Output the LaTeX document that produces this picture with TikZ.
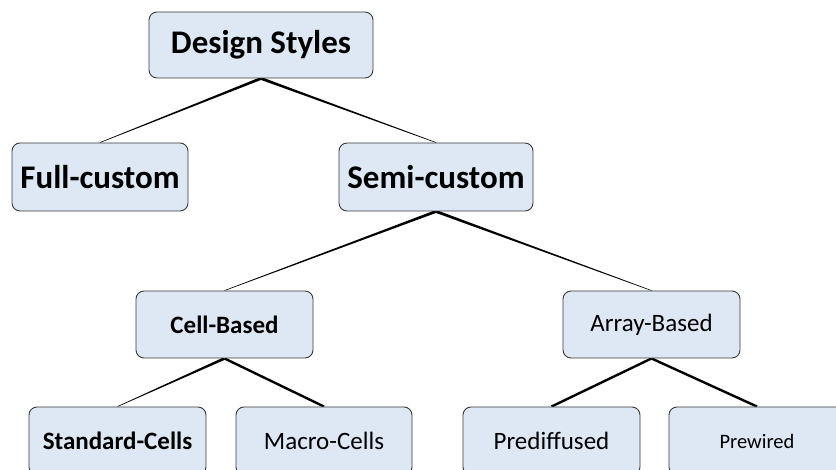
\documentclass[tikz,border=0pt]{standalone}
\usepackage{fontspec}
\setmainfont{Carlito}
\usetikzlibrary{calc,backgrounds}

\definecolor{boxfill}{HTML}{DEE8F4}
\definecolor{boxline}{HTML}{3A3A3A}

% connector that narrows from the parent box down to the child box
\newcommand{\taperlink}[2]{%
  \fill[black] ($(#1.south)+(0,-1.5)$) -- ($(#1.south)+(0,1.5)$)
    -- ($(#2.north)+(0,0.3)$) -- ($(#2.north)+(0,-0.3)$) -- cycle;}

\tikzset{
  box/.style={draw=boxline, fill=boxfill, line width=0.9pt, rounded corners=8pt,
    inner sep=0pt, minimum width=#1, minimum height=68pt, align=center},
  big/.style={font=\fontsize{33}{38}\selectfont\bfseries},
  midb/.style={font=\fontsize{25}{30}\selectfont\bfseries},
  mid/.style={font=\fontsize{25}{30}\selectfont},
  small/.style={font=\fontsize{20.5}{24}\selectfont},
  thicklink/.style={line width=2.4pt, black}
}

\begin{document}
\begin{tikzpicture}[x=1pt, y=-1pt]
  \useasboundingbox (0,0) rectangle (836,470);
  \clip (0,0) rectangle (836,470);

  \node[box=224pt, minimum height=66pt, big] (ds) at (261,45) {Design Styles};
  \node[box=176pt, big] (fc) at (100,177) {Full-custom};
  \node[box=194pt, big] (sc) at (436,177) {Semi-custom};

  \node[box=177pt, minimum height=67pt, midb] (cb) at (224.5,324.5) {Cell-Based};
  \node[box=177pt, minimum height=67pt, mid] (ab) at (651.5,324.5) {Array-Based};

  \node[box=177pt, midb] (std) at (117.5,441) {Standard-Cells};
  \node[box=176pt, mid] (mc) at (324,441) {Macro-Cells};
  \node[box=177pt, mid] (pd) at (551.5,441) {Prediffused};
  \node[box=176pt, small] (pw) at (757,441) {Prewired};

  \begin{scope}[on background layer]
    \taperlink{ds}{fc}
    \taperlink{ds}{sc}
    \taperlink{sc}{cb}
    \taperlink{sc}{ab}
    \taperlink{cb}{std}
    \draw[thicklink] (cb.south) -- (mc.north);
    \draw[thicklink] (ab.south) -- (pd.north);
    \draw[thicklink] (ab.south) -- (pw.north);
  \end{scope}
\end{tikzpicture}
\end{document}
